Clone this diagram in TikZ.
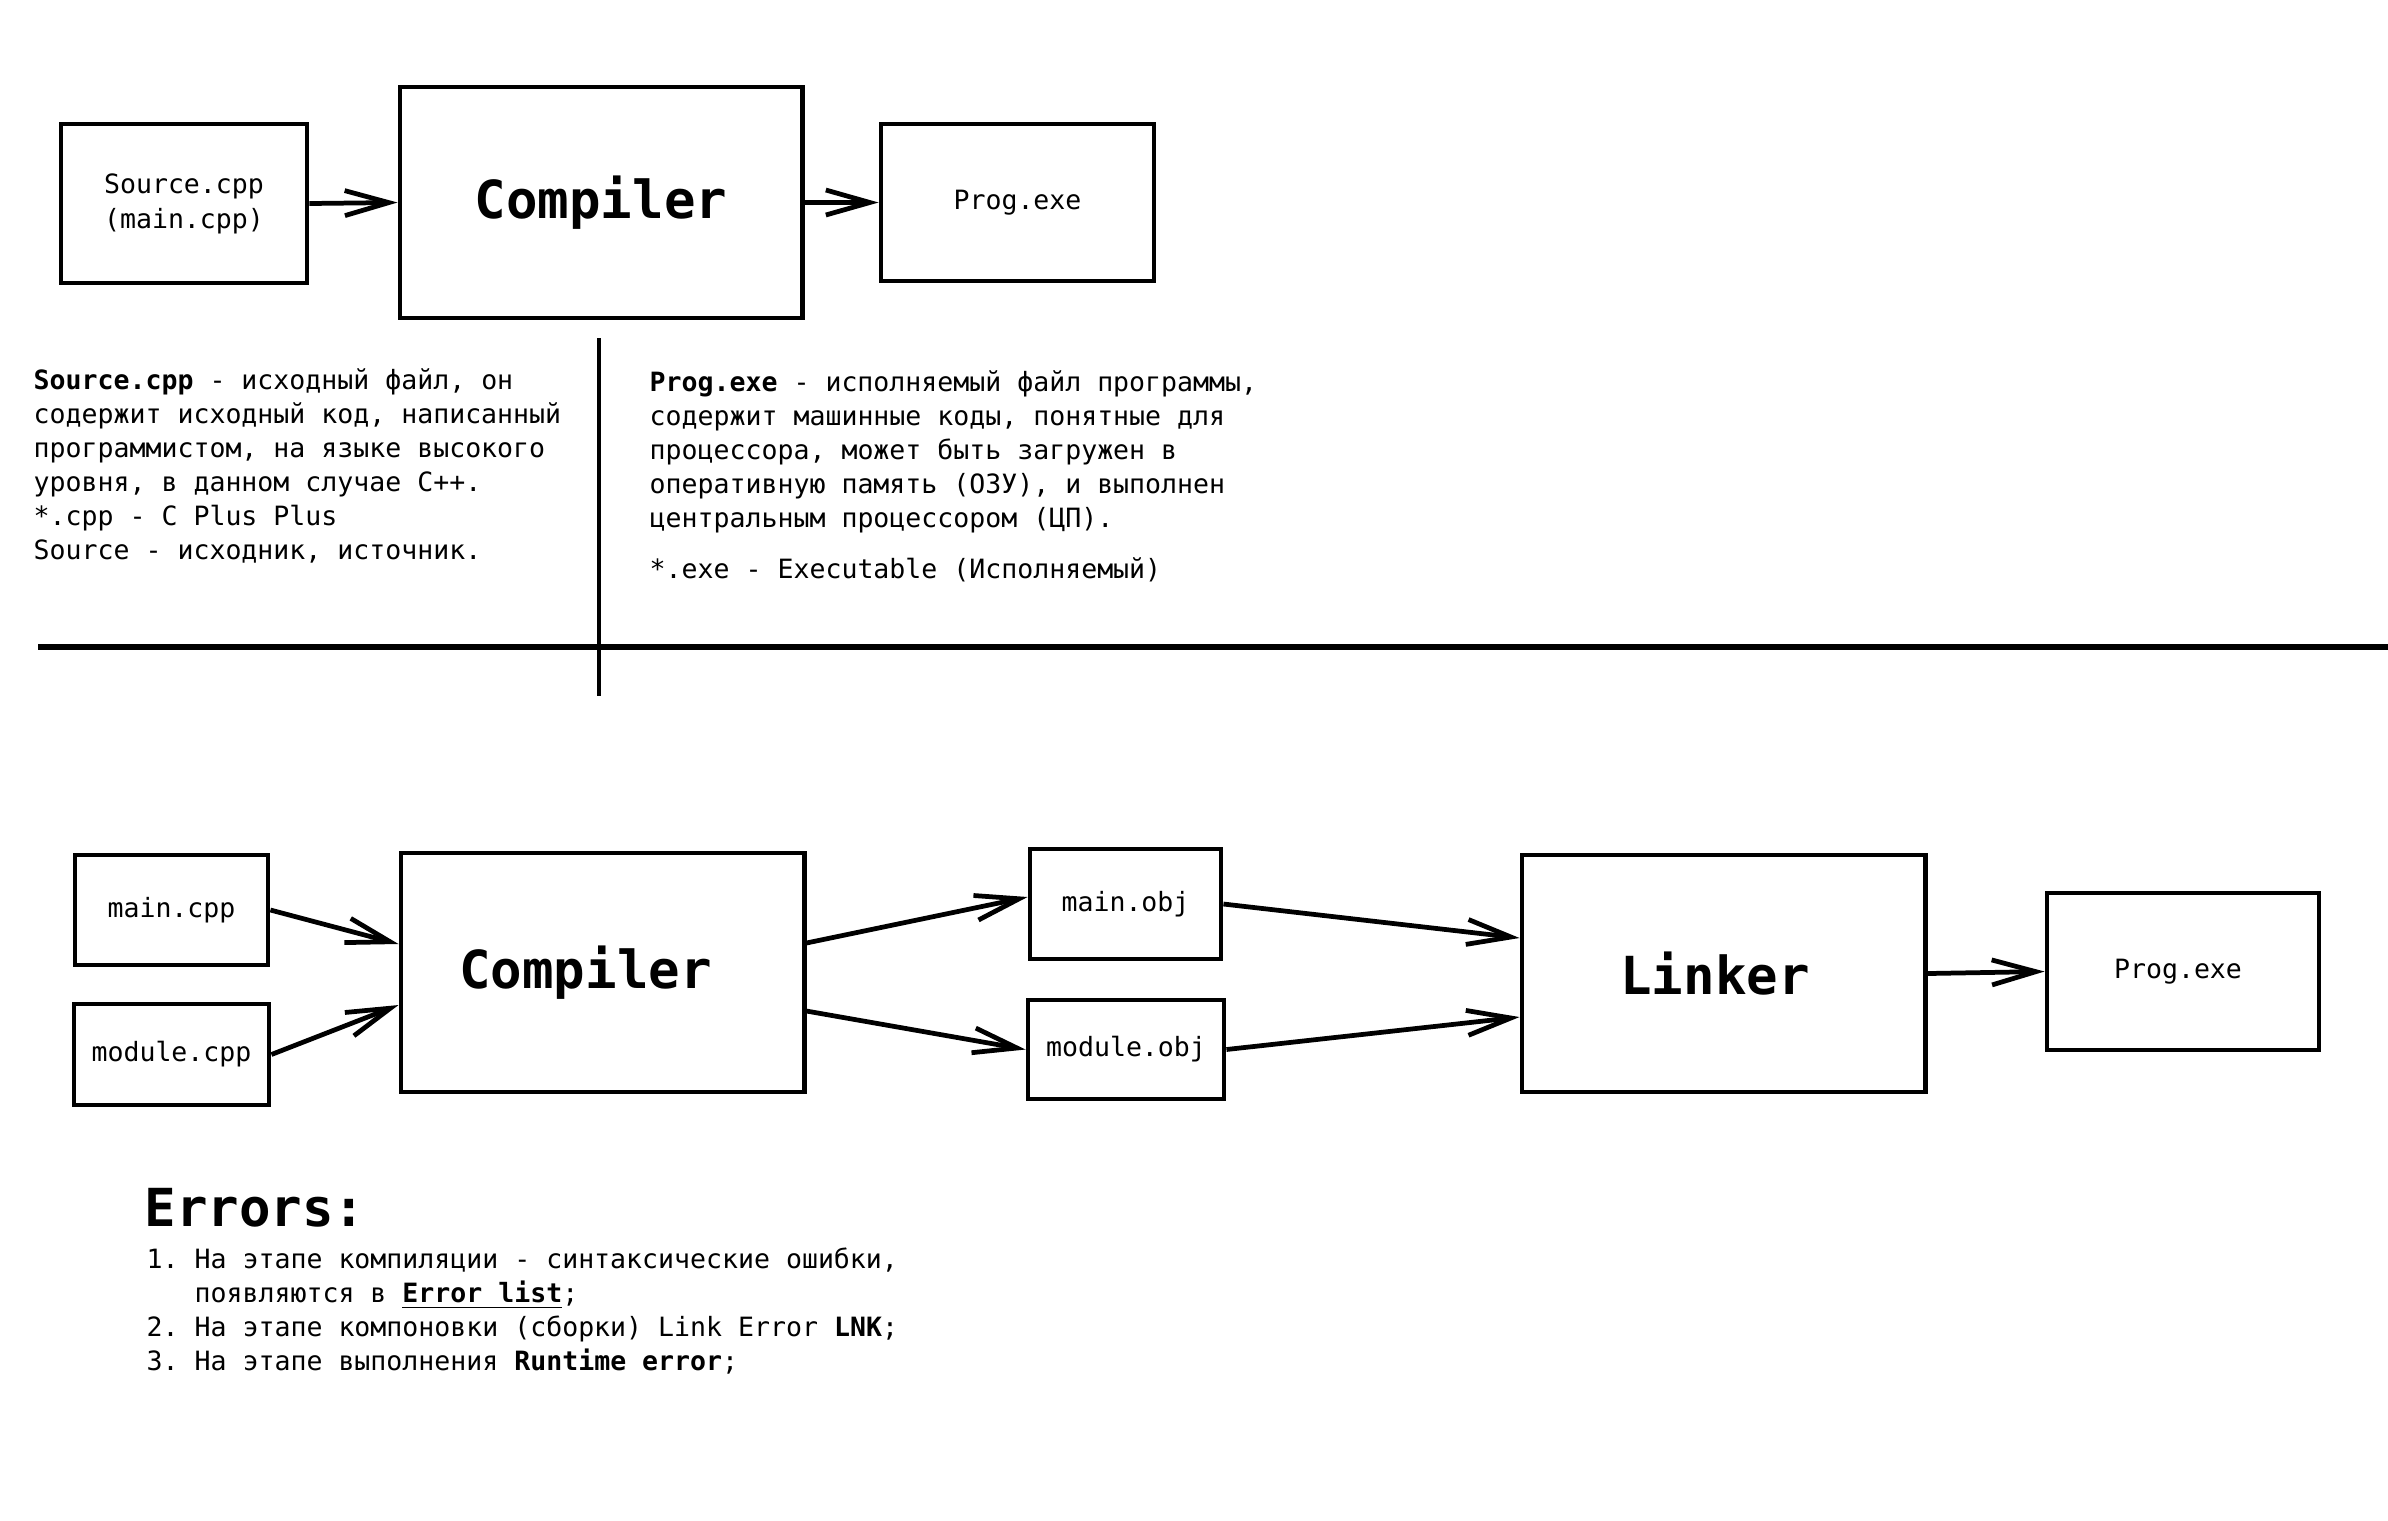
\documentclass[tikz,border=0pt]{standalone}
\usepackage{fontspec}
\setmainfont{DejaVu Sans Mono}
\frenchspacing
\usetikzlibrary{arrows.meta}
\tikzset{
  box/.style={draw, line width=1.35pt, inner sep=0pt, align=center, font=\fontsize{7.55}{9.9}\selectfont},
  bigbox/.style={box, font=\fontsize{14.9}{18}\selectfont\bfseries},
  arr/.style={line width=1.35pt, -{Straight Barb[length=4.4mm, width=2.5mm]}},
  note/.style={inner sep=0pt, align=left, font=\fontsize{7.55}{9.64}\selectfont}
}

\begin{document}
\begin{tikzpicture}[x=0.01cm, y=-0.01cm]
\useasboundingbox (0,0) rectangle (2388,1520);
% compile only
\node[box, minimum width=2.46cm, minimum height=1.59cm] (src) at (184,203.5) {Source.cpp\\(main.cpp)};
\node[bigbox, minimum width=4.02cm, minimum height=2.31cm] (comp1) at (601,202.5) {Compiler};
\node[box, minimum width=2.73cm, minimum height=1.57cm] (prog1) at (1017.5,202.5) {Prog.exe};
\draw[arr] (src.east) -- (comp1.west);
\draw[arr] (comp1.east) -- (prog1.west);

\node[note, anchor=north west] (srcnote) at (33,368) {\textbf{Source.cpp} - исходный файл, он\\
содержит исходный код, написанный\\
программистом, на языке высокого\\
уровня, в данном случае C++.\\
*.cpp - C Plus Plus\\
Source - исходник, источник.};
\node[note, anchor=north west] (prognote) at (649,370) {\textbf{Prog.exe} - исполняемый файл программы,\\
содержит машинные коды, понятные для\\
процессора, может быть загружен в\\
оперативную память (ОЗУ), и выполнен\\
центральным процессором (ЦП).\\[5pt]
*.exe - Executable (Исполняемый)};

\draw[line width=1.3pt] (599,338) -- (599,696);
\draw[line width=1.5pt] (38,647) -- (2388,647);

% compile and link
\node[box, minimum width=1.93cm, minimum height=1.10cm] (mcpp) at (171.5,910) {main.cpp};
\node[box, minimum width=1.95cm, minimum height=1.01cm] (modcpp) at (171.5,1054.5) {module.cpp};
\node[bigbox, minimum width=4.03cm, minimum height=2.39cm] (comp2) at (602.5,972.5) {Compiler\hspace*{0.34cm}};
\node[box, minimum width=1.91cm, minimum height=1.10cm] (mobj) at (1125.5,904) {main.obj};
\node[box, minimum width=1.96cm, minimum height=0.99cm] (modobj) at (1126,1049.5) {module.obj};
\node[bigbox, minimum width=4.03cm, minimum height=2.37cm] (link) at (1723.5,973.5) {Linker\hspace*{0.17cm}};
\node[box, minimum width=2.72cm, minimum height=1.57cm] (prog2) at (2183,971.5) {Prog.exe\hspace*{0.1cm}};
\draw[arr] (mcpp.east) -- ([yshift=0.285cm]comp2.west);
\draw[arr] (modcpp.east) -- ([yshift=-0.325cm]comp2.west);
\draw[arr] ([yshift=0.295cm]comp2.east) -- ([yshift=0.07cm]mobj.west);
\draw[arr] ([yshift=-0.385cm]comp2.east) -- (modobj.west);
\draw[arr] (mobj.east) -- ([yshift=0.355cm]link.west);
\draw[arr] (modobj.east) -- ([yshift=-0.435cm]link.west);
\draw[arr] (link.east) -- (prog2.west);

\node[anchor=base west, inner sep=0pt, font=\fontsize{14.9}{18}\selectfont\bfseries] (errtitle) at (144,1226) {Errors:};
\node[note, anchor=north west] (errlist) at (146,1247) {1. На этапе компиляции - синтаксические ошибки,\\
\phantom{1.\ }появляются в \underline{\textbf{Error list}};\\
2. На этапе компоновки (сборки) Link Error \textbf{LNK};\\
3. На этапе выполнения \textbf{Runtime error};};
\end{tikzpicture}
\end{document}
